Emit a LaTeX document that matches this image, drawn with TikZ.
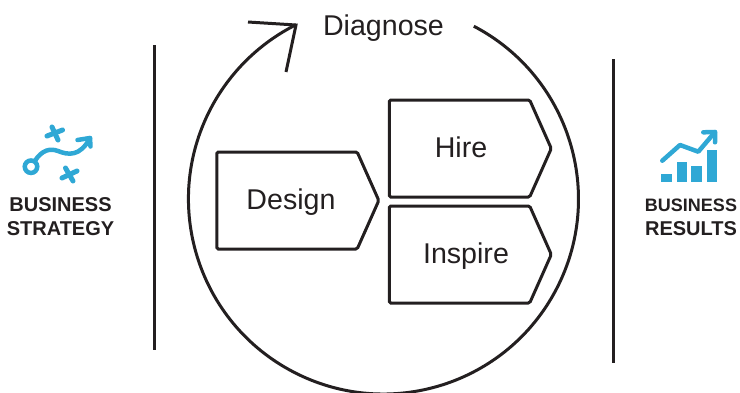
\documentclass[tikz,border=0pt]{standalone}
\usepackage{fontspec}
\setmainfont{Liberation Sans}
\usepackage{xcolor}
\usetikzlibrary{shapes.symbols}
\definecolor{inkdark}{HTML}{231F20}
\definecolor{iconblue}{HTML}{2FA8D5}

\begin{document}
\begin{tikzpicture}[
    x=1pt, y=-1pt,
    stepshape/.style={signal, signal to=east, signal pointer angle=132, draw=inkdark, line width=3pt, rounded corners=1.5pt,
        minimum width=162pt, minimum height=97pt, inner sep=0pt, text=inkdark, text height=17pt, text depth=0pt,
        font=\fontsize{28.6}{32}\selectfont},
    bizlabel/.style={align=center, text=inkdark, inner sep=0pt, font=\fontsize{20}{24}\selectfont\bfseries},
    rule/.style={draw=inkdark, line width=3pt},
    iconline/.style={draw=iconblue, line width=4.5pt, line cap=round, line join=round},
    iconbar/.style={fill=iconblue}
]
\useasboundingbox (0,0) rectangle (740,392);
% left and right rules
\coordinate (ruleLtop) at (154,45);
\coordinate (ruleLbot) at (154,350);
\coordinate (ruleRtop) at (613,59);
\coordinate (ruleRbot) at (613,363);
\draw[rule] (ruleLtop) -- (ruleLbot);
\draw[rule] (ruleRtop) -- (ruleRbot);
% cycle
\node[text=inkdark, inner sep=0pt, text height=20pt, text depth=0pt, font=\fontsize{28.6}{32}\selectfont](diagnose) at (383.5,25){Diagnose};
\coordinate (cyclestart) at (473.8,26.2);
\coordinate (cycletip) at (296,25);
\coordinate (barbA) at (248,22);
\coordinate (barbB) at (286,72);
\draw[rule] (cyclestart) arc[start angle=-62.4, end angle=243.3, radius=195];
\draw[rule] (barbA) -- (cycletip) -- (barbB);
% steps
\node[stepshape](design) at (287,200.5){\hspace*{8pt}Design};
\node[stepshape](hire) at (459.5,148.5){\hspace*{3pt}Hire};
\node[stepshape](inspire) at (459.5,254.5){\hspace*{13pt}Inspire};
% strategy icon
\node[bizlabel](strategy) at (60.5,217){BUSINESS\\STRATEGY};
\node[circle, draw=iconblue, line width=4.5pt, minimum size=12.5pt, inner sep=0pt](ring) at (31,166.7){};
\coordinate (routeend) at (90,138);
\draw[iconline] (ring) ++(4,-6) .. controls (42,150) and (50,148) .. (58,151) .. controls (68,155) and (80,157) .. (routeend);
\draw[iconline] (77.5,140) -- (routeend) -- (90.5,146.5);
\draw[iconline, line width=5pt] (47,136) -- (62.5,130);
\draw[iconline, line width=5pt] (52,127) -- (58,140);
\draw[iconline, line width=5pt] (62,178) -- (77,171);
\draw[iconline, line width=5pt] (65.5,168) -- (73,181);
% results icon
\node[bizlabel](results) at (691,217){{\fontsize{18}{24}\selectfont BUSINESS}\\RESULTS};
\fill[iconbar] (661,174) rectangle (671.7,181.7);
\fill[iconbar] (676.7,161.7) rectangle (686.7,181.7);
\fill[iconbar] (691.3,165.7) rectangle (701.7,181.7);
\fill[iconbar] (706.7,150) rectangle (717,181.7);
\draw[iconline] (662.3,160.7) -- (680,145) -- (698.3,151.7) -- (715,132);
\draw[iconline] (703.3,132.3) -- (715,132) -- (715,142.3);
\end{tikzpicture}
\end{document}
